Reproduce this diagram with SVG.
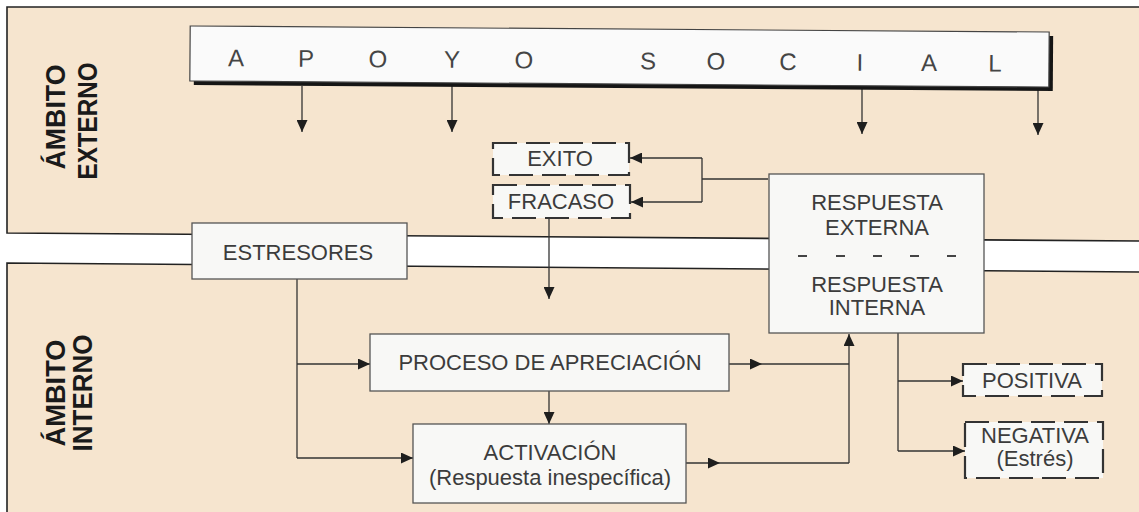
<svg xmlns="http://www.w3.org/2000/svg" width="1139" height="512" viewBox="0 0 1139 512">
<defs>
<marker id="ah" markerUnits="userSpaceOnUse" markerWidth="12" markerHeight="11" refX="12" refY="5.5" orient="auto" viewBox="0 0 12 11">
<path d="M0,0 L12,5.5 L0,11 z" fill="#1e1e1e"/>
</marker>
</defs>
<style>
.panel{fill:#f6e5cf}
.frame{stroke:#222;stroke-width:1.6;fill:none}
.box{fill:#f8f8f6;stroke:#555;stroke-width:1.3}
.dbox{fill:#f8f8f6;stroke:#333;stroke-width:2.2;stroke-dasharray:24 9}
.t{font-family:"Liberation Sans",Arial,sans-serif;font-size:22px;fill:#3c3c3c;text-anchor:middle}
.ap{font-size:24px;fill:#454545}
.lab{font-family:"Liberation Sans",Arial,sans-serif;font-weight:bold;font-size:27px;fill:#1a1a1a;text-anchor:middle}
.c{stroke:#333;stroke-width:1.3;fill:none}
.ca{stroke:#333;stroke-width:1.3;fill:none;marker-end:url(#ah)}
.dash{stroke:#444;stroke-width:2.2}
</style>
<rect x="0" y="0" width="1139" height="512" fill="#ffffff"/>
<g id="panels">
<polygon class="panel" points="7,7 1139,7 1139,241 7,233"/>
<polygon class="panel" points="7,263 1139,272 1139,512 7,512"/>
<path class="frame" d="M1139,7 H7 V233 L1139,241"/>
<path class="frame" d="M1139,272 L7,263 V512"/>
</g>
<g id="labels">
<text class="lab" transform="translate(65,117) rotate(-90)" textLength="105" lengthAdjust="spacingAndGlyphs">ÁMBITO</text>
<text class="lab" transform="translate(97,121) rotate(-90)" textLength="117" lengthAdjust="spacingAndGlyphs">EXTERNO</text>
<text class="lab" transform="translate(65,393) rotate(-90)" textLength="107" lengthAdjust="spacingAndGlyphs">ÁMBITO</text>
<text class="lab" transform="translate(92,393) rotate(-90)" textLength="117" lengthAdjust="spacingAndGlyphs">INTERNO</text>
</g>
<g id="connectors">
<path class="ca" d="M302,86 V132"/>
<path class="ca" d="M452,86 V132"/>
<path class="ca" d="M862,88 V134"/>
<path class="ca" d="M1038,89 V135"/>
<path class="c" d="M768,179 H702 M702,158 V202"/>
<path class="ca" d="M702,158 H630"/>
<path class="ca" d="M702,202 H631"/>
<path class="ca" d="M549,218 V299"/>
<path class="c" d="M297,279 V458"/>
<path class="ca" d="M297,364 H370"/>
<path class="ca" d="M297,458 H413"/>
<path class="ca" d="M549,390 V424"/>
<path class="ca" d="M729,364 H762"/>
<path class="c" d="M762,364 H849"/>
<path class="ca" d="M686,463 H720"/>
<path class="c" d="M720,463 H849"/>
<path class="ca" d="M849,463 V334"/>
<path class="c" d="M898,333 V451"/>
<path class="ca" d="M898,381 H963"/>
<path class="ca" d="M898,451 H965"/>
</g>
<g id="apoyo-social" transform="rotate(0.4 620 57)">
<rect x="194" y="33" width="859" height="55" fill="#151515"/>
<rect x="190" y="29" width="859" height="55" fill="#fafafa" stroke="#444" stroke-width="1.2"/>
<text class="t ap" x="236" y="69">A</text>
<text class="t ap" x="306" y="69">P</text>
<text class="t ap" x="378" y="69">O</text>
<text class="t ap" x="452" y="69">Y</text>
<text class="t ap" x="524" y="69">O</text>
<text class="t ap" x="648" y="69">S</text>
<text class="t ap" x="716" y="69">O</text>
<text class="t ap" x="788" y="69">C</text>
<text class="t ap" x="860" y="69">I</text>
<text class="t ap" x="929" y="69">A</text>
<text class="t ap" x="995" y="69">L</text>
</g>
<g id="exito">
<rect class="dbox" x="493" y="143" width="136" height="32"/>
<text class="t" x="560" y="166">EXITO</text>
</g>
<g id="fracaso">
<rect class="dbox" x="493" y="185" width="137" height="33"/>
<text class="t" x="561" y="209">FRACASO</text>
</g>
<g id="estresores">
<rect class="box" x="192" y="223" width="215" height="56"/>
<text class="t" x="298" y="260">ESTRESORES</text>
</g>
<g id="respuesta">
<rect class="box" x="769" y="174" width="215" height="159"/>
<text class="t" x="877" y="210">RESPUESTA</text>
<text class="t" x="877" y="235">EXTERNA</text>
<path class="dash" d="M798,256 h9 M836,256 h9 M873,256 h9 M910,256 h9 M947,256 h9"/>
<text class="t" x="877" y="292">RESPUESTA</text>
<text class="t" x="877" y="315">INTERNA</text>
</g>
<g id="proceso">
<rect class="box" x="370" y="334" width="359" height="57"/>
<text class="t" x="550" y="370">PROCESO DE APRECIACIÓN</text>
</g>
<g id="activacion">
<rect class="box" x="413" y="424" width="273" height="79"/>
<text class="t" x="550" y="460">ACTIVACIÓN</text>
<text class="t" x="550" y="485">(Respuesta inespecífica)</text>
</g>
<g id="positiva">
<rect class="dbox" x="963" y="364" width="139" height="32"/>
<text class="t" x="1032" y="388">POSITIVA</text>
</g>
<g id="negativa">
<rect class="dbox" x="965" y="422" width="138" height="56"/>
<text class="t" x="1035" y="443">NEGATIVA</text>
<text class="t" x="1035" y="466">(Estrés)</text>
</g>
</svg>
